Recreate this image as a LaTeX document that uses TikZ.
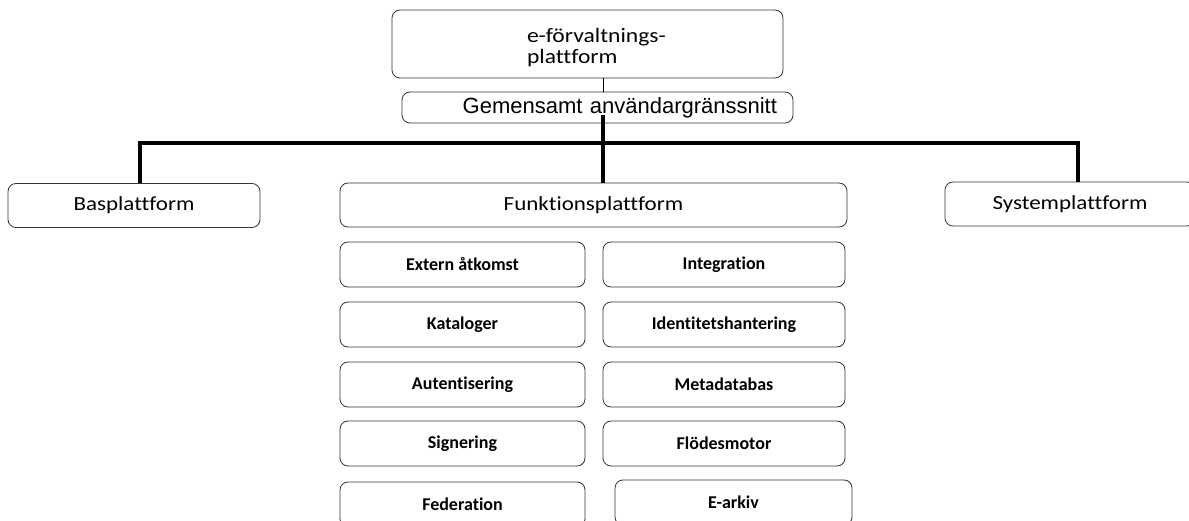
\documentclass[tikz,border=0pt]{standalone}
\usepackage{fontspec}
\setmainfont{Carlito}[Ligatures=NoCommon]
\newfontfamily\widefont{Carlito}[Ligatures=NoCommon, FakeStretch=1.15]
\newfontfamily\arialfont{Liberation Sans}
\begin{document}
\begin{tikzpicture}[x=1pt,y=-1pt,
  box/.style={draw=black!80, line width=0.8pt, rounded corners=8pt, inner sep=0pt},
  small/.style={box, minimum height=45pt, font=\fontsize{18}{21}\selectfont\bfseries},
  big/.style={box, minimum height=44pt, font=\widefont\fontsize{20}{24}\selectfont},
  thick line/.style={line width=3.5pt}]
\useasboundingbox (0,0) rectangle (1189,521);
\node[box, minimum width=391pt, minimum height=68pt, inner xsep=6pt, text width=379pt, align=left, font=\widefont\fontsize{20.5}{21}\selectfont] (top) at (587.5,44) {\hspace*{129pt}\rule{0pt}{22pt}e-förvaltnings-\\\hspace*{129pt}plattform};
\node[box, minimum width=391pt, minimum height=31pt, inner xsep=16pt, text width=359pt, align=right, font=\arialfont\fontsize{22}{24}\selectfont] (gem) at (597.5,107.5) {Gemensamt användargränssnitt};
\node[big, minimum width=252pt] (bas) at (134,205.5) {Basplattform};
\node[big, minimum width=507pt] (funk) at (593.5,205) {Funktionsplattform};
\node[big, minimum width=250pt] (sys) at (1070,204) {Systemplattform};
\node[small, minimum width=245pt] (ext) at (462.5,264.5) {Extern åtkomst};
\node[small, minimum width=242pt] (int) at (724,264.5) {Integration};
\node[small, minimum width=245pt] (kat) at (462.5,324.5) {Kataloger};
\node[small, minimum width=242pt] (ide) at (724,324.5) {Identitetshantering};
\node[small, minimum width=245pt] (aut) at (462.5,384.5) {Autentisering};
\node[small, minimum width=242pt] (met) at (724,384.5) {Metadatabas};
\node[small, minimum width=245pt] (sig) at (462.5,443.5) {Signering};
\node[small, minimum width=242pt] (flo) at (724,443.5) {Flödesmotor};
\node[small, minimum width=245pt] (fed) at (462.5,504.5) {Federation};
\node[small, minimum width=237pt, inner xsep=0pt, text width=237pt, align=center] (ark) at (733.5,502.5) {E-arkiv\hspace*{16pt}};
\coordinate (j) at (603,143);
\coordinate (s) at (603,115);
\draw[line width=0.8pt] (top.south -| s) -- (gem.north -| s);
\draw[thick line] (s) -- (s |- funk.north);
\draw[thick line] (bas.north -| 140,0) |- (j) -| (sys.north -| 1078,0);
\end{tikzpicture}
\end{document}
